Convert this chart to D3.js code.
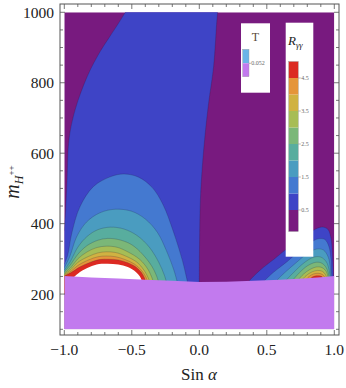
<!DOCTYPE html>
<html>
<head>
<meta charset="utf-8">
<script src="https://cdn.jsdelivr.net/npm/d3@7"></script>
<style>
body{margin:0;background:#fff;}
text{font-family:"Liberation Serif","DejaVu Serif",serif;}
</style>
</head>
<body>
<script>
var w = 346;
var h = 388;

/** contour levels of R_gamma-gamma and the band colours above each level **/
var levels = [0.5, 1, 1.5, 2, 2.5, 3, 3.5, 4, 4.5, 5];
var bandColors = ["#3e44c6","#4479d0","#4a9cc0","#58ad9e","#7bb778","#a7bd55","#d0b242","#e5953a","#dc2a22","#ffffff"];
var lowColor = "#781a7f";
var tColor = "#c27aee";
var tHighColor = "#6ab4e8";

/** contour lines: [sin alpha, m_H++] **/
var left05 = [[-1.0,380],[-0.99,440],[-0.98,520],[-0.965,640],[-0.92,723],[-0.83,818],[-0.74,885],[-0.66,933],[-0.6,968],[-0.548,1000],[-0.5,1030],[0.15,1030],[0.136,1000],[0.106,846],[0.07,745],[0.044,657],[0.022,560],[0.008,467],[0.002,350],[0.0,230]];
var left10 = [[-1.0,285],[-0.975,310],[-0.945,372],[-0.884,448],[-0.785,505],[-0.66,533],[-0.56,541],[-0.45,532],[-0.35,503],[-0.27,455],[-0.19,375],[-0.125,295],[-0.085,230]];
var left15 = [[-1.0,275],[-0.96,306],[-0.908,363],[-0.834,405],[-0.735,431],[-0.62,441],[-0.5,435],[-0.4,413],[-0.31,375],[-0.24,320],[-0.19,270],[-0.16,230]];
var left20 = [[-1.0,268],[-0.955,293],[-0.9,333],[-0.83,364],[-0.75,383],[-0.66,390],[-0.56,385],[-0.46,366],[-0.37,333],[-0.3,290],[-0.26,255],[-0.24,230]];
var left25 = [[-1.0,263],[-0.955,283],[-0.9,313],[-0.83,338],[-0.75,353],[-0.68,358],[-0.59,354],[-0.5,340],[-0.42,313],[-0.35,278],[-0.31,245],[-0.3,230]];
var left30 = [[-1.0,259],[-0.95,276],[-0.9,300],[-0.83,320],[-0.76,332],[-0.69,336],[-0.61,333],[-0.53,320],[-0.44,298],[-0.38,270],[-0.345,240],[-0.34,230]];
var left35 = [[-1.0,256],[-0.95,270],[-0.9,290],[-0.82,307],[-0.75,317],[-0.69,320],[-0.62,318],[-0.54,307],[-0.46,290],[-0.41,268],[-0.375,243],[-0.365,230]];
var left40 = [[-1.0,253],[-0.95,265],[-0.9,281],[-0.82,297],[-0.75,306],[-0.69,308],[-0.62,306],[-0.55,298],[-0.48,285],[-0.43,268],[-0.395,248],[-0.38,230]];
var left45 = [[-1.0,251],[-0.95,261],[-0.89,276],[-0.81,290],[-0.74,298],[-0.67,299],[-0.6,297],[-0.53,289],[-0.47,277],[-0.43,262],[-0.405,245],[-0.395,230]];
var left50 = [[-0.95,240],[-0.9,258],[-0.83,274],[-0.76,284],[-0.68,286],[-0.6,284],[-0.53,277],[-0.47,263],[-0.44,250],[-0.425,238],[-0.42,230]];

var right05 = [[0.35,230],[0.45,268],[0.56,301],[0.66,332],[0.76,358],[0.84,380],[0.9,390],[0.95,385],[0.975,360],[0.985,320],[0.99,280],[0.995,230]];
var right10 = [[0.46,230],[0.55,262],[0.65,292],[0.74,322],[0.82,345],[0.88,357],[0.93,355],[0.96,335],[0.975,300],[0.98,260],[0.985,230]];
var right15 = [[0.55,230],[0.63,260],[0.72,290],[0.8,315],[0.87,328],[0.92,325],[0.955,305],[0.97,275],[0.975,245],[0.978,230]];
var right20 = [[0.62,230],[0.7,262],[0.78,290],[0.85,305],[0.9,305],[0.94,292],[0.962,268],[0.97,245],[0.972,230]];
var right25 = [[0.67,230],[0.74,260],[0.8,280],[0.86,290],[0.9,289],[0.935,278],[0.955,260],[0.963,240],[0.965,230]];
var right30 = [[0.71,230],[0.77,256],[0.82,270],[0.87,277],[0.91,275],[0.94,264],[0.953,248],[0.958,230]];
var right35 = [[0.74,230],[0.79,252],[0.835,263],[0.875,267],[0.91,265],[0.935,255],[0.947,240],[0.95,230]];
var right40 = [[0.77,230],[0.81,249],[0.845,257],[0.88,259],[0.91,256],[0.93,248],[0.94,235],[0.942,230]];
var right45 = [[0.79,230],[0.825,245],[0.855,251],[0.885,252],[0.91,249],[0.925,240],[0.932,230]];

var leftArcs = [left05,left10,left15,left20,left25,left30,left35,left40,left45,left50];
var rightArcs = [right05,right10,right15,right20,right25,right30,right35,right40,right45,null];

/** T > 0.052 excluded region: upper edge **/
var tEdgeSin = [-1, -0.9, -0.8, -0.6, -0.4, -0.2, 0, 0.2, 0.4, 0.6, 0.8, 0.9, 1];
var tEdgeM   = [251, 249, 247, 244, 241, 238, 234, 235, 238, 241, 245, 248, 251];

/** ticks **/
var xTickLabels = [-1, -0.5, 0, 0.5, 1];
var yTickLabels = [200, 400, 600, 800, 1000];
var legendLabels = [0.5, 1.5, 2.5, 3.5, 4.5];

var svg = d3.select("body")
            .append("svg")
            .attr("width", w)
            .attr("height", h);

var x = d3.scaleLinear().domain([-1, 1]).range([64.3, 334.3]);
var y = d3.scaleLinear().domain([100, 1000]).range([329.3, 12.3]);

svg.append("defs").append("clipPath").attr("id", "plotClip")
    .append("rect")
    .attr("x", x(-1)).attr("y", y(1000))
    .attr("width", x(1) - x(-1)).attr("height", y(100) - y(1000));

var plot = svg.append("g").attr("clip-path", "url(#plotClip)");

plot.append("rect")
    .attr("x", x(-1)).attr("y", y(1000))
    .attr("width", x(1) - x(-1)).attr("height", y(100) - y(1000))
    .attr("fill", lowColor);

var arcLine = d3.line()
    .x(function(d){ return x(d[0]); })
    .y(function(d){ return y(d[1]); })
    .curve(d3.curveCatmullRom.alpha(0.5));

function regionPath(pts){
    var a = pts[0], b = pts[pts.length - 1];
    return arcLine(pts) + "L" + x(b[0]) + "," + y(200) + "L" + x(a[0]) + "," + y(200) + "Z";
}

/****filled bands, lowest level first****/
levels.forEach(function(lv, i){
    [leftArcs[i], rightArcs[i]].forEach(function(pts){
        if(!pts){ return; }
        plot.append("path")
            .attr("d", regionPath(pts))
            .attr("fill", bandColors[i]);
    });
});

/****contour lines****/
levels.forEach(function(lv, i){
    if(lv >= 5){ return; }
    [leftArcs[i], rightArcs[i]].forEach(function(pts){
        if(!pts){ return; }
        plot.append("path")
            .attr("d", arcLine(pts))
            .attr("fill", "none")
            .attr("stroke", "rgba(30,30,60,0.35)")
            .attr("stroke-width", 0.6);
    });
});

/****T region****/
var tEdge = tEdgeSin.map(function(s, i){ return [s, tEdgeM[i]]; });
plot.append("path")
    .datum(tEdge)
    .attr("d", d3.area()
        .x(function(d){ return x(d[0]); })
        .y0(y(100))
        .y1(function(d){ return y(d[1]); }))
    .attr("fill", tColor);

/****frame and ticks****/
var fx0 = 60, fx1 = 339, fy0 = 4, fy1 = 335;
svg.append("rect")
    .attr("x", fx0).attr("y", fy0)
    .attr("width", fx1 - fx0).attr("height", fy1 - fy0)
    .attr("fill", "none").attr("stroke", "#555").attr("stroke-width", 1);

var ticks = svg.append("g").attr("stroke", "#555").attr("stroke-width", 0.8);
d3.range(-10, 11).forEach(function(k){
    var v = k / 10, len = (k % 5 === 0) ? 5 : 3;
    ticks.append("line").attr("x1", x(v)).attr("x2", x(v)).attr("y1", fy1).attr("y2", fy1 - len);
    ticks.append("line").attr("x1", x(v)).attr("x2", x(v)).attr("y1", fy0).attr("y2", fy0 + len);
});
d3.range(100, 1001, 50).forEach(function(v){
    var len = (v % 200 === 0) ? 5 : 3;
    ticks.append("line").attr("x1", fx0).attr("x2", fx0 + len).attr("y1", y(v)).attr("y2", y(v));
    ticks.append("line").attr("x1", fx1).attr("x2", fx1 - len).attr("y1", y(v)).attr("y2", y(v));
});

svg.selectAll("text.xtick")
    .data(xTickLabels)
    .enter()
    .append("text")
    .attr("class", "xtick")
    .text(function(d){ return d3.format(".1f")(d).replace("-", "\u2212"); })
    .attr("text-anchor", "middle")
    .attr("x", function(d){ return x(d); })
    .attr("y", 355)
    .attr("font-size", 15.5)
    .attr("fill", "#222");

svg.selectAll("text.ytick")
    .data(yTickLabels)
    .enter()
    .append("text")
    .attr("class", "ytick")
    .text(function(d){ return d; })
    .attr("text-anchor", "end")
    .attr("x", 54)
    .attr("y", function(d){ return y(d); })
    .attr("dy", "0.35em")
    .attr("font-size", 15.5)
    .attr("fill", "#222");

var xTitle = svg.append("text")
    .attr("x", 199).attr("y", 380)
    .attr("text-anchor", "middle")
    .attr("font-size", 17)
    .attr("fill", "#222");
xTitle.append("tspan").text("Sin ");
xTitle.append("tspan").attr("font-style", "italic").text("\u03b1");

var yTitle = svg.append("text")
    .attr("transform", "translate(19,182) rotate(-90)")
    .attr("text-anchor", "middle")
    .attr("font-size", 20)
    .attr("font-style", "italic")
    .attr("fill", "#222");
yTitle.append("tspan").text("m");
yTitle.append("tspan").attr("font-size", 12).attr("dy", 4).text("H");
yTitle.append("tspan").attr("font-size", 9).attr("font-style", "normal").attr("dy", -9).text("++");

/****legend T****/
var lgT = svg.append("g");
lgT.append("rect").attr("x", 241).attr("y", 23.3).attr("width", 29).attr("height", 69.4).attr("fill", "#fff");
lgT.append("text").attr("x", 255.5).attr("y", 41).attr("text-anchor", "middle")
    .attr("font-size", 12).attr("fill", "#5a4a3a").text("T");
lgT.append("rect").attr("x", 242.7).attr("y", 49.3).attr("width", 6.3).attr("height", 14).attr("fill", tHighColor);
lgT.append("rect").attr("x", 242.7).attr("y", 63.3).attr("width", 6.3).attr("height", 13.4).attr("fill", tColor);
lgT.append("rect").attr("x", 242.7).attr("y", 49.3).attr("width", 6.3).attr("height", 27.4)
    .attr("fill", "none").attr("stroke", "#999").attr("stroke-width", 0.4);
lgT.append("line").attr("x1", 249).attr("x2", 251).attr("y1", 63.3).attr("y2", 63.3).attr("stroke", "#777").attr("stroke-width", 0.5);
lgT.append("text").attr("x", 251.3).attr("y", 63.3).attr("dy", "0.35em")
    .attr("font-size", 6).attr("fill", "#666").text("0.052");

/****legend R****/
var lgR = svg.append("g");
lgR.append("rect").attr("x", 285.7).attr("y", 22.7).attr("width", 27.6).attr("height", 234).attr("fill", "#fff");
var rTitle = lgR.append("text").attr("x", 288).attr("y", 45)
    .attr("font-size", 13).attr("font-style", "italic").attr("fill", "#222");
rTitle.append("tspan").text("R");
rTitle.append("tspan").attr("font-size", 8.5).attr("dy", 3).text("\u03b3\u03b3");

var lgY = d3.scaleLinear().domain([0.5, 5]).range([210, 61.5]);
lgR.append("rect").attr("x", 288.7).attr("y", lgY(0.5)).attr("width", 9.6).attr("height", 21.5).attr("fill", lowColor);
lgR.selectAll("rect.band")
    .data(levels.slice(0, 9))
    .enter()
    .append("rect")
    .attr("class", "band")
    .attr("x", 288.7)
    .attr("y", function(d){ return lgY(d + 0.5); })
    .attr("width", 9.6)
    .attr("height", function(d){ return lgY(d) - lgY(d + 0.5); })
    .attr("fill", function(d, i){ return bandColors[i]; });
lgR.append("rect").attr("x", 288.7).attr("y", lgY(5)).attr("width", 9.6).attr("height", lgY(0.5) + 21.5 - lgY(5))
    .attr("fill", "none").attr("stroke", "#999").attr("stroke-width", 0.4);
lgR.selectAll("line.lt")
    .data(legendLabels)
    .enter()
    .append("line")
    .attr("class", "lt")
    .attr("x1", 298.3).attr("x2", 300.8)
    .attr("y1", function(d){ return lgY(d); })
    .attr("y2", function(d){ return lgY(d); })
    .attr("stroke", "#777").attr("stroke-width", 0.5);
lgR.selectAll("text.lt")
    .data(legendLabels)
    .enter()
    .append("text")
    .attr("class", "lt")
    .text(function(d){ return d; })
    .attr("x", 301.2)
    .attr("y", function(d){ return lgY(d); })
    .attr("dy", "0.35em")
    .attr("font-size", 6)
    .attr("fill", "#666");
</script>
</body>
</html>
